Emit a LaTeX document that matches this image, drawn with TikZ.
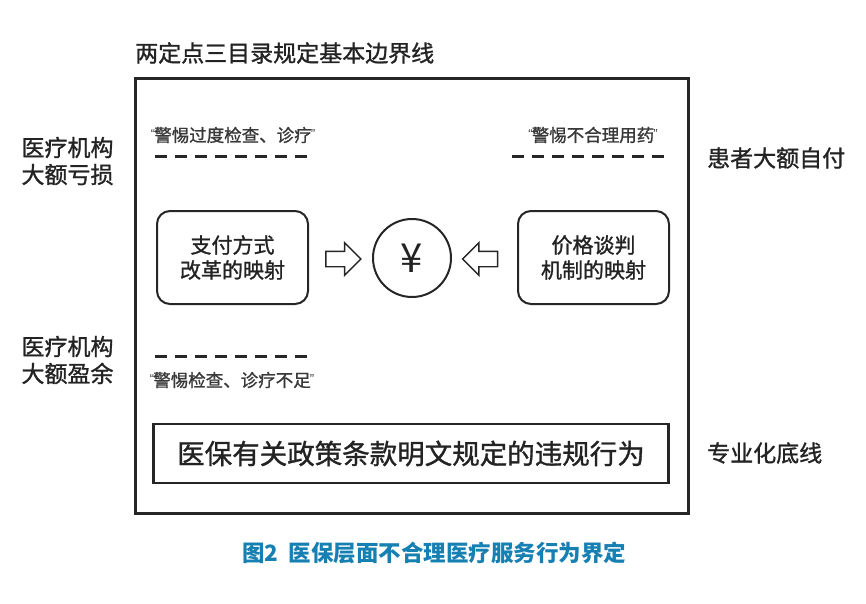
\documentclass[tikz,border=0pt]{standalone}
\usepackage{fontspec}
\usepackage{xcolor}
\usetikzlibrary{shapes.arrows}
\setmainfont{Noto Sans CJK SC}
\newfontfamily\heavyfont{Noto Sans CJK SC}[FakeBold=1.2]
\newfontfamily\latinfont{Liberation Sans}
\newcommand{\qt}[1]{{\latinfont\fontsize{13}{13}\selectfont\raisebox{3pt}{“}}\kern-1pt#1\kern-1pt{\latinfont\fontsize{13}{13}\selectfont\raisebox{3pt}{”}}}
\definecolor{txtgray}{RGB}{35,35,35}
\definecolor{capblue}{RGB}{22,128,178}

\begin{document}
\begin{tikzpicture}[x=1pt,y=-1pt,
    lbl/.style={inner sep=0pt,text=txtgray,font=\heavyfont\fontsize{23}{27}\selectfont,align=center},
    warn/.style={inner sep=0pt,text=txtgray!90,font=\heavyfont\fontsize{17.5}{20}\selectfont},
    mapbox/.style={draw=black!85,line width=2pt,rounded corners=13pt,minimum width=151pt,minimum height=93pt,
        align=center,text=txtgray,font=\heavyfont\fontsize{21}{25}\selectfont},
    hollow/.style={single arrow,draw=black!85,line width=1.4pt,minimum height=35pt,minimum width=31pt,
        single arrow head extend=8.5pt,inner xsep=0pt,inner ysep=7pt},
    sep/.style={line width=3pt,black!85,dash pattern=on 12pt off 8pt}]
            \useasboundingbox (0,0) rectangle (866,604);
            \node (title) at (135,53) [lbl,anchor=west] {两定点三目录规定基本边界线};
            \node (frame) at (411.5,296) [draw=black!85,line width=3pt,minimum width=553pt,minimum height=434pt] {};
            \node (loss) at (67.5,161) [lbl] {医疗机构\\大额亏损};
            \node (surplus) at (67.5,360) [lbl] {医疗机构\\大额盈余};
            \node (selfpay) at (707,158) [lbl,anchor=west] {患者大额自付};
            \node (floor) at (707,453) [lbl,anchor=west] {专业化底线};
            \node (over) at (233,135) [warn] {\qt{警惕过度检查、诊疗}};
            \node (drug) at (593,135) [warn] {\qt{警惕不合理用药}};
            \node (under) at (232,380) [warn] {\qt{警惕检查、诊疗不足}};
            \draw[sep] (155,157) -- (312,157) (512,157) -- (668,157) (155,356) -- (312,356);
            \node (pay) at (232.5,257.5) [mapbox] {支付方式\\改革的映射};
            \node (price) at (593.5,257.5) [mapbox] {价格谈判\\机制的映射};
            \node (yuan) at (412,258) [circle,draw=black!85,line width=2pt,minimum size=78pt,inner sep=0pt,
                text=txtgray,font=\fontsize{40}{40}\selectfont] {¥};
            \node (toL) at (339.5,259) [hollow] {};
            \node (toR) at (484,259) [hollow,shape border rotate=180] {};
            \node (rule) at (411,453.5) [draw=black!85,line width=2.5pt,minimum width=515pt,minimum height=59pt,
                inner sep=0pt,text=txtgray,font=\heavyfont\fontsize{27.5}{27.5}\selectfont] {医保有关政策条款明文规定的违规行为};
            \node (caption) at (434,553) [inner sep=0pt,text=capblue,font=\bfseries\fontsize{22.5}{24}\selectfont] {图2\ \ 医保层面不合理医疗服务行为界定};
        \end{tikzpicture}
\end{document}
